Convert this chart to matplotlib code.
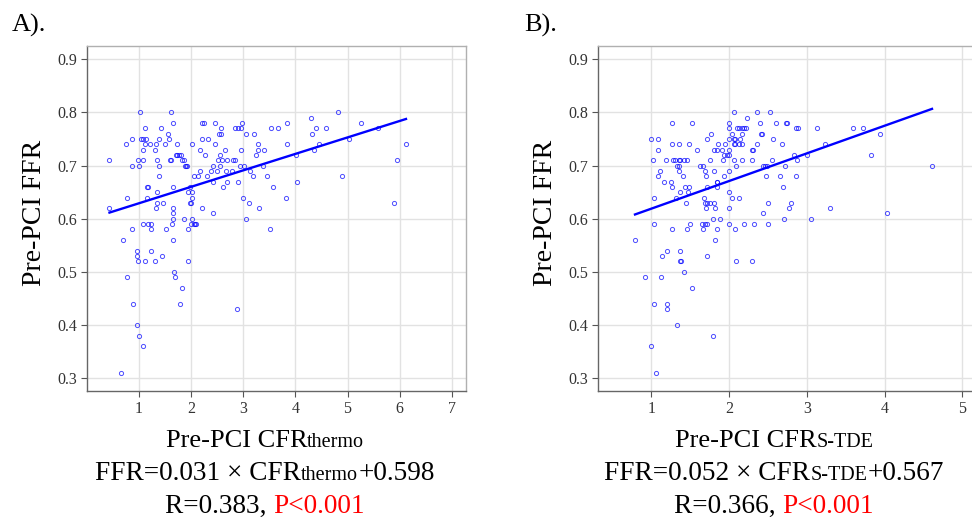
import matplotlib

matplotlib.use("Agg")
import matplotlib.pyplot as plt
from matplotlib.ticker import FormatStrFormatter

plt.rcParams["font.family"] = ["Liberation Serif", "DejaVu Serif"]

# Panel A: pre-PCI CFR (thermodilution) vs pre-PCI FFR
cfr_thermo = [
    1.02, 1.61, 4.82,
    4.30,
    1.65, 2.22, 2.26, 2.46, 2.97, 3.84, 5.25,
    1.12, 1.43, 2.57, 2.85, 2.90, 2.95, 3.53, 3.66, 4.40, 4.59, 5.58,
    1.56, 2.54, 2.58, 3.05, 3.20, 4.32,
    0.87, 1.04, 1.08, 1.13, 1.38, 1.58, 2.22, 2.33, 5.03,
    0.76, 1.12, 1.22, 1.33, 1.51, 1.74, 2.02, 2.46, 3.29, 3.85, 4.46, 6.12,
    1.08, 1.31, 2.17, 2.66, 2.95, 3.28, 3.40, 4.35,
    1.71, 1.74, 1.77, 1.81, 2.27, 2.55, 3.24, 4.02,
    0.44, 0.99, 1.09, 1.35, 1.59, 1.62, 1.83, 1.87, 2.51, 2.60, 2.70, 2.80, 2.84, 5.95,
    0.88, 1.01, 1.38, 1.88, 1.91, 1.93, 2.42, 2.56, 2.94, 3.02, 3.38,
    2.18, 2.39, 2.50, 2.68, 2.79, 3.13,
    1.38, 2.05, 2.14, 2.31, 3.18, 3.45, 4.90,
    2.43, 2.70, 2.90, 4.03,
    1.15, 1.18, 1.65, 1.98, 2.62, 3.57,
    1.35, 1.95, 2.03,
    0.78, 1.15, 2.03, 3.00, 3.83,
    1.35, 1.47, 1.99, 2.00, 3.12, 5.90,
    0.44, 1.33, 1.66, 2.22, 3.30,
    1.66, 2.42,
    1.65, 1.87, 2.03, 3.05,
    1.08, 1.18, 1.24, 1.63, 2.01, 2.05, 2.08, 2.10,
    0.88, 1.24, 1.52, 1.94, 3.51,
    0.69, 1.66,
    0.97, 1.24,
    0.97, 1.44,
    0.98, 1.12, 1.31, 1.94,
    1.68,
    0.78, 1.69,
    1.82,
    0.90, 1.79,
    2.88,
    0.97,
    1.01,
    1.08,
    0.66,
]
ffr_a = [
    0.80, 0.80, 0.80,
    0.79,
    0.78, 0.78, 0.78, 0.78, 0.78, 0.78, 0.78,
    0.77, 0.77, 0.77, 0.77, 0.77, 0.77, 0.77, 0.77, 0.77, 0.77, 0.77,
    0.76, 0.76, 0.76, 0.76, 0.76, 0.76,
    0.75, 0.75, 0.75, 0.75, 0.75, 0.75, 0.75, 0.75, 0.75,
    0.74, 0.74, 0.74, 0.74, 0.74, 0.74, 0.74, 0.74, 0.74, 0.74, 0.74, 0.74,
    0.73, 0.73, 0.73, 0.73, 0.73, 0.73, 0.73, 0.73,
    0.72, 0.72, 0.72, 0.72, 0.72, 0.72, 0.72, 0.72,
    0.71, 0.71, 0.71, 0.71, 0.71, 0.71, 0.71, 0.71, 0.71, 0.71, 0.71, 0.71, 0.71, 0.71,
    0.70, 0.70, 0.70, 0.70, 0.70, 0.70, 0.70, 0.70, 0.70, 0.70, 0.70,
    0.69, 0.69, 0.69, 0.69, 0.69, 0.69,
    0.68, 0.68, 0.68, 0.68, 0.68, 0.68, 0.68,
    0.67, 0.67, 0.67, 0.67,
    0.66, 0.66, 0.66, 0.66, 0.66, 0.66,
    0.65, 0.65, 0.65,
    0.64, 0.64, 0.64, 0.64, 0.64,
    0.63, 0.63, 0.63, 0.63, 0.63, 0.63,
    0.62, 0.62, 0.62, 0.62, 0.62,
    0.61, 0.61,
    0.60, 0.60, 0.60, 0.60,
    0.59, 0.59, 0.59, 0.59, 0.59, 0.59, 0.59, 0.59,
    0.58, 0.58, 0.58, 0.58, 0.58,
    0.56, 0.56,
    0.54, 0.54,
    0.53, 0.53,
    0.52, 0.52, 0.52, 0.52,
    0.50,
    0.49, 0.49,
    0.47,
    0.44, 0.44,
    0.43,
    0.40,
    0.38,
    0.36,
    0.31,
]

# Panel B: pre-PCI CFR (S-TDE) vs pre-PCI FFR
cfr_stde = [
    2.06, 2.36, 2.53,
    2.23,
    1.27, 1.52, 2.00, 2.40, 2.60, 2.73, 2.75,
    2.00, 2.10, 2.13, 2.16, 2.19, 2.22, 2.86, 2.89, 3.13, 3.60, 3.72,
    1.77, 2.04, 2.16, 2.41, 2.42, 3.94,
    0.99, 1.09, 1.72, 2.00, 2.06, 2.08, 2.14, 2.56,
    1.26, 1.36, 1.48, 1.86, 1.95, 2.06, 2.08, 2.13, 2.17, 2.36, 2.68, 3.23,
    1.09, 1.59, 1.81, 1.84, 1.91, 2.00, 2.29, 2.31,
    1.94, 1.97, 2.00, 2.83, 3.00, 3.82,
    1.02, 1.19, 1.28, 1.30, 1.36, 1.37, 1.42, 1.46, 1.75, 1.92, 2.06, 2.16, 2.30, 2.55, 2.87,
    1.33, 1.35, 1.62, 1.67, 2.09, 2.44, 2.46, 2.49, 2.72, 4.61,
    1.11, 1.36, 1.69, 1.81, 2.00,
    1.08, 1.41, 1.70, 1.93, 2.48, 2.65, 2.86,
    1.16, 1.25, 1.84, 1.85,
    1.27, 1.43, 1.49, 1.71, 1.84, 2.69,
    1.37, 1.47, 2.00,
    1.03, 1.32, 1.68, 2.04, 2.13,
    1.45, 1.69, 1.71, 1.75, 1.80, 2.50, 2.80,
    1.70, 1.82, 2.00, 2.77, 3.30,
    2.44, 4.03,
    1.79, 1.88, 2.70, 3.05,
    1.04, 1.50, 1.65, 1.69, 1.71, 2.00, 2.19, 2.32, 2.50,
    1.26, 1.46, 1.66, 1.85, 2.08,
    0.79, 1.82,
    1.20, 1.37,
    1.14, 1.72,
    1.37, 1.38, 2.09, 2.29,
    1.42,
    0.92, 1.13,
    1.52,
    1.03, 1.20,
    1.20,
    1.33,
    1.79,
    0.99,
    1.06,
]
ffr_b = [
    0.80, 0.80, 0.80,
    0.79,
    0.78, 0.78, 0.78, 0.78, 0.78, 0.78, 0.78,
    0.77, 0.77, 0.77, 0.77, 0.77, 0.77, 0.77, 0.77, 0.77, 0.77, 0.77,
    0.76, 0.76, 0.76, 0.76, 0.76, 0.76,
    0.75, 0.75, 0.75, 0.75, 0.75, 0.75, 0.75, 0.75,
    0.74, 0.74, 0.74, 0.74, 0.74, 0.74, 0.74, 0.74, 0.74, 0.74, 0.74, 0.74,
    0.73, 0.73, 0.73, 0.73, 0.73, 0.73, 0.73, 0.73,
    0.72, 0.72, 0.72, 0.72, 0.72, 0.72,
    0.71, 0.71, 0.71, 0.71, 0.71, 0.71, 0.71, 0.71, 0.71, 0.71, 0.71, 0.71, 0.71, 0.71, 0.71,
    0.70, 0.70, 0.70, 0.70, 0.70, 0.70, 0.70, 0.70, 0.70, 0.70,
    0.69, 0.69, 0.69, 0.69, 0.69,
    0.68, 0.68, 0.68, 0.68, 0.68, 0.68, 0.68,
    0.67, 0.67, 0.67, 0.67,
    0.66, 0.66, 0.66, 0.66, 0.66, 0.66,
    0.65, 0.65, 0.65,
    0.64, 0.64, 0.64, 0.64, 0.64,
    0.63, 0.63, 0.63, 0.63, 0.63, 0.63, 0.63,
    0.62, 0.62, 0.62, 0.62, 0.62,
    0.61, 0.61,
    0.60, 0.60, 0.60, 0.60,
    0.59, 0.59, 0.59, 0.59, 0.59, 0.59, 0.59, 0.59, 0.59,
    0.58, 0.58, 0.58, 0.58, 0.58,
    0.56, 0.56,
    0.54, 0.54,
    0.53, 0.53,
    0.52, 0.52, 0.52, 0.52,
    0.50,
    0.49, 0.49,
    0.47,
    0.44, 0.44,
    0.43,
    0.40,
    0.38,
    0.36,
    0.31,
]

# regression results printed under each panel
slope_a, intercept_a, r_a = 0.031, 0.598, 0.383
slope_b, intercept_b, r_b = 0.052, 0.567, 0.366
p_text = "P<0.001"

yticks = [0.3, 0.4, 0.5, 0.6, 0.7, 0.8, 0.9]
xticks_a = [1, 2, 3, 4, 5, 6, 7]
xticks_b = [1, 2, 3, 4, 5]

W, H = 972, 523
BIG, SUB = 19.6, 14.5


def px_rect(left, top, right, bottom):
    """Axes rectangle from pixel edges (origin top-left)."""
    return [left / W, 1 - bottom / H, (right - left) / W, (bottom - top) / H]


def style_axes(ax, xticks, xlim):
    ax.set_xlim(*xlim)
    ax.set_ylim(0.276, 0.925)
    ax.set_xticks(xticks)
    ax.set_yticks(yticks)
    ax.yaxis.set_major_formatter(FormatStrFormatter("%.1f"))
    ax.grid(True, color="#e2e2e2", lw=1.0)
    ax.set_axisbelow(True)
    for side in ("left", "bottom"):
        ax.spines[side].set_color("#666666")
        ax.spines[side].set_linewidth(1.0)
    for side in ("top", "right"):
        ax.spines[side].set_color("#b0b0b0")
        ax.spines[side].set_linewidth(1.0)
    ax.tick_params(direction="out", length=4.5, width=0.8, color="#555555",
                   labelsize=11.5, labelcolor="#333333", pad=3)


def draw_runs(fig, runs, xc, yb):
    """Place text runs side by side, centred on xc, baseline at yb (pixels)."""
    renderer = fig.canvas.get_renderer()
    texts = []
    for s, size, color in runs:
        texts.append(fig.text(0, 1 - yb / H, s, fontsize=size, color=color,
                              ha="left", va="baseline"))
    widths = [t.get_window_extent(renderer).width for t in texts]
    x = xc - sum(widths) / 2
    for t, w in zip(texts, widths):
        t.set_x(x / W)
        x += w


def panel(ax, cfr, ffr, slope, intercept):
    ax.plot(cfr, ffr, "o", ms=3.0, mfc="none", mec="blue", mew=0.7, alpha=0.7,
            zorder=3)
    lo, hi = min(cfr), max(cfr)
    ax.plot([lo, hi], [slope * lo + intercept, slope * hi + intercept],
            color="blue", lw=1.7, zorder=4)
    ax.set_ylabel("Pre-PCI FFR", fontsize=20)


fig = plt.figure(figsize=(W / 100, H / 100), dpi=100)
ax_a = fig.add_axes(px_rect(87.3, 46, 465.7, 391))
ax_b = fig.add_axes(px_rect(598.3, 46, 982, 391))

style_axes(ax_a, xticks_a, (0.015, 7.264))
style_axes(ax_b, xticks_b, (0.318, 5.253))
panel(ax_a, cfr_thermo, ffr_a, slope_a, intercept_a)
panel(ax_b, cfr_stde, ffr_b, slope_b, intercept_b)
ax_a.yaxis.set_label_coords(-0.107, 0.517)
ax_b.yaxis.set_label_coords(-0.105, 0.517)

fig.text(12 / W, 1 - 32 / H, "A).", fontsize=19, va="baseline")
fig.text(524 / W, 1 - 32 / H, "B).", fontsize=19, va="baseline")

for xc, sub, slope, intercept, r in [
    (265, "thermo", slope_a, intercept_a, r_a),
    (774, "S-TDE", slope_b, intercept_b, r_b),
]:
    draw_runs(fig, [("Pre-PCI CFR", 19, "black"), (sub, SUB, "black")], xc, 447)
    draw_runs(fig, [(f"FFR={slope:.3f} \u00d7 CFR", BIG, "black"),
                    (sub, SUB, "black"),
                    (f"+{intercept:.3f}", BIG, "black")], xc, 480)
    draw_runs(fig, [(f"R={r:.3f}, ", BIG, "black"), (p_text, BIG, "red")], xc, 513)

fig.savefig("out.png", dpi=100)
